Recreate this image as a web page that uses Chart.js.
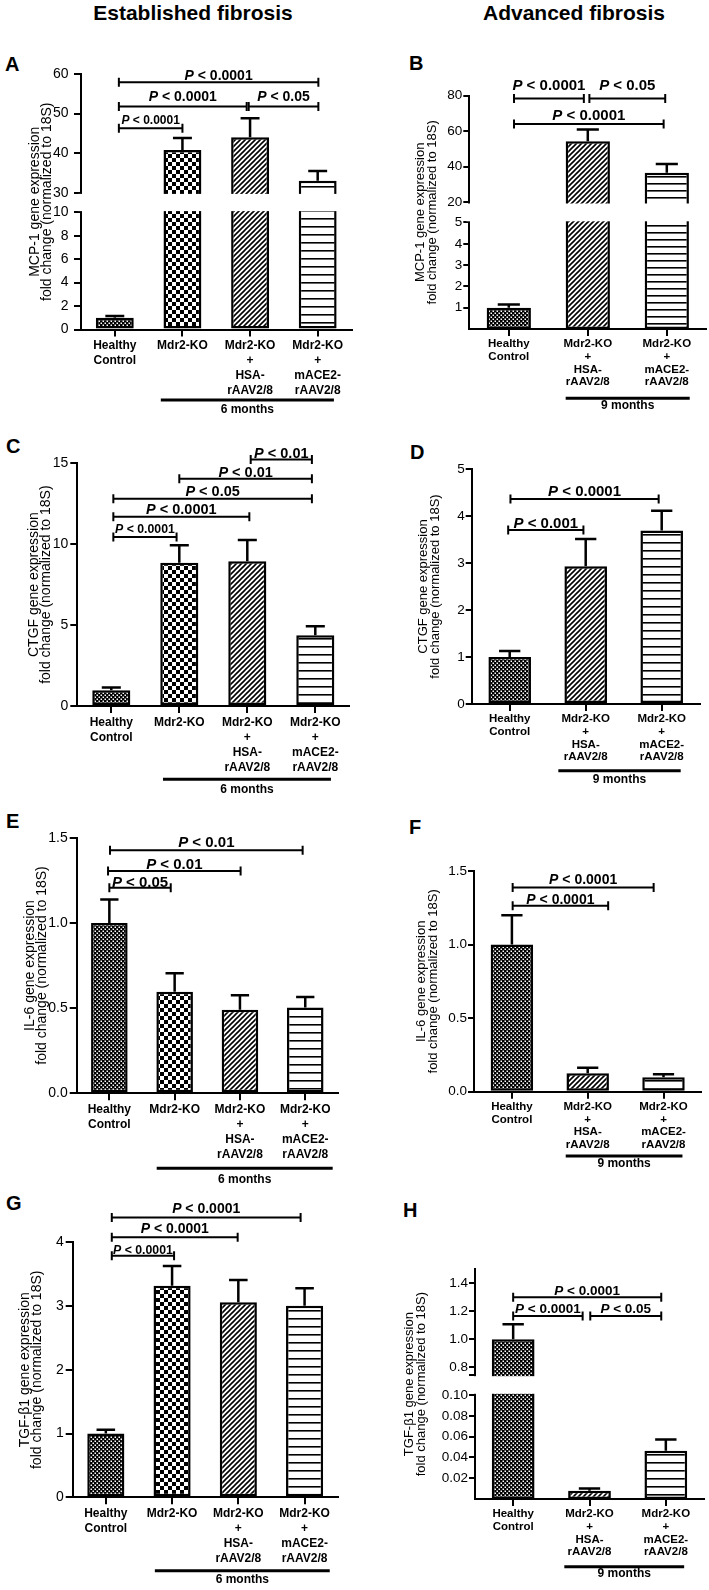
<!DOCTYPE html>
<html>
<head>
<meta charset="utf-8">
<script src="https://cdn.jsdelivr.net/npm/chart.js@4.4.1/dist/chart.umd.min.js"></script>
<style>
  body { margin: 0; background: #fff; }
  #page { position: relative; width: 709px; height: 1590px; font-family: 'Liberation Sans', Arial, sans-serif; color: #000; overflow: hidden; }
  .head { position: absolute; font-weight: bold; font-size: 21px; line-height: 21px; white-space: nowrap; transform: translateX(-50%); }
  .letter { position: absolute; font-weight: bold; font-size: 20px; line-height: 20px; }
  canvas { position: absolute; }
</style>
</head>
<body>
<div id="page">
  <div class="head" style="left:193px; top:2px">Established fibrosis</div>
  <div class="head" style="left:574px; top:2px">Advanced fibrosis</div>
  <div class="letter" style="left:5px; top:54px">A</div>
  <div class="letter" style="left:409px; top:53px">B</div>
  <div class="letter" style="left:6px; top:436px">C</div>
  <div class="letter" style="left:410px; top:442px">D</div>
  <div class="letter" style="left:6px; top:811px">E</div>
  <div class="letter" style="left:409px; top:817px">F</div>
  <div class="letter" style="left:6px; top:1193px">G</div>
  <div class="letter" style="left:403px; top:1200px">H</div>
</div>
<script>
// categories
const established = [['Healthy', 'Control'], ['Mdr2-KO'], ['Mdr2-KO', '+', 'HSA-', 'rAAV2/8'], ['Mdr2-KO', '+', 'mACE2-', 'rAAV2/8']];
const advanced = [['Healthy', 'Control'], ['Mdr2-KO', '+', 'HSA-', 'rAAV2/8'], ['Mdr2-KO', '+', 'mACE2-', 'rAAV2/8']];

// MCP-1 (mean, SEM)
const mcp1Est = [1.0, 40.8, 44.0, 33.0];
const mcp1EstErr = [0.15, 3.0, 4.8, 2.5];
const mcp1Adv = [1.0, 54.3, 36.6];
const mcp1AdvErr = [0.15, 6.7, 4.9];

// CTGF
const ctgfEst = [0.98, 8.86, 8.95, 4.38];
const ctgfEstErr = [0.17, 1.08, 1.31, 0.55];
const ctgfAdv = [1.0, 2.93, 3.69];
const ctgfAdvErr = [0.13, 0.58, 0.42];

// IL-6
const il6Est = [1.0, 0.596, 0.49, 0.504];
const il6EstErr = [0.137, 0.108, 0.085, 0.061];
const il6Adv = [1.0, 0.125, 0.0975];
const il6AdvErr = [0.2, 0.038, 0.021];

// TGF-b1
const tgfEst = [1.0, 3.32, 3.06, 3.005];
const tgfEstErr = [0.06, 0.31, 0.35, 0.275];
const tgfAdv = [1.0, 0.008, 0.0464];
const tgfAdvErr = [0.107, 0.0022, 0.0109];

// y tick values and labels
const ticksA = [0, 2, 4, 6, 8, 10, 30, 40, 50, 60];
const labelsA = ['0', '2', '4', '6', '8', '10', '30', '40', '50', '60'];
const ticksB = [1, 2, 3, 4, 5, 20, 40, 60, 80];
const labelsB = ['1', '2', '3', '4', '5', '20', '40', '60', '80'];
const ticksC = [0, 5, 10, 15];
const labelsC = ['0', '5', '10', '15'];
const ticksD = [0, 1, 2, 3, 4, 5];
const labelsD = ['0', '1', '2', '3', '4', '5'];
const ticksEF = [0, 0.5, 1.0, 1.5];
const labelsEF = ['0.0', '0.5', '1.0', '1.5'];
const ticksG = [0, 1, 2, 3, 4];
const labelsG = ['0', '1', '2', '3', '4'];
const ticksH = [0.02, 0.04, 0.06, 0.08, 0.10, 0.745, 0.8, 1.0, 1.2, 1.4];
const labelsH = ['0.02', '0.04', '0.06', '0.08', '0.10', '', '0.8', '1.0', '1.2', '1.4'];

const mcpTitle = ['MCP-1 gene expression', 'fold change (normalized to 18S)'];
const ctgfTitle = ['CTGF gene expression', 'fold change (normalized to 18S)'];
const il6Title = ['IL-6 gene expression', 'fold change (normalized to 18S)'];
const tgfTitle = ['TGF-\u03b21 gene expression', 'fold change (normalized to 18S)'];

const FONT = "'Liberation Sans', Arial, sans-serif";
Chart.defaults.font.family = FONT;
Chart.defaults.color = '#000';

// linear scale with an optional axis break
const scaleSetup = {};
class BrokenScale extends Chart.LinearScale {
  buildTicks() {
    return scaleSetup[this.chart.canvas.id].ticks.map(v => ({ value: v }));
  }
  getPixelForValue(v) {
    const brk = scaleSetup[this.chart.canvas.id].brk;
    if (v === null || isNaN(v)) return NaN;
    if (!brk) return super.getPixelForValue(v);
    const [lowMax, highMin, lowFrac, gapFrac] = brk;
    let d;
    if (v <= lowMax) d = lowFrac * (v - this.min) / (lowMax - this.min);
    else if (v >= highMin) d = lowFrac + gapFrac + (1 - lowFrac - gapFrac) * (v - highMin) / (this.max - highMin);
    else d = lowFrac + gapFrac * (v - lowMax) / (highMin - lowMax);
    return this.getPixelForDecimal(d);
  }
}
BrokenScale.id = 'broken';
BrokenScale.defaults = Chart.LinearScale.defaults;
Chart.register(BrokenScale);

function tile(w, h, paint) {
  const c = document.createElement('canvas');
  c.width = w; c.height = h;
  const g = c.getContext('2d');
  g.fillStyle = '#fff';
  g.fillRect(0, 0, w, h);
  g.fillStyle = '#000';
  g.strokeStyle = '#000';
  paint(g);
  return g.createPattern(c, 'repeat');
}
const fineCheck = () => tile(4, 4, g => {
  g.fillRect(0, 0, 4, 4);
  g.fillStyle = '#fff';
  g.fillRect(0.5, 0.5, 1.5, 1.5);
  g.fillRect(2.5, 2.5, 1.5, 1.5);
});
const bigCheck = () => tile(8, 8, g => { g.fillRect(0, 0, 4, 4); g.fillRect(4, 4, 4, 4); });
const diag = () => tile(5, 5, g => {
  g.lineWidth = 1.6;
  g.beginPath();
  g.moveTo(0, 5); g.lineTo(5, 0);
  g.moveTo(-1, 1); g.lineTo(1, -1);
  g.moveTo(4, 6); g.lineTo(6, 4);
  g.stroke();
});
const hlines = step => tile(4, step, g => g.fillRect(0, 0, 4, 1.6));

function drawPText(ctx, text, cx, baseline, size) {
  const rest = text.slice(1);
  ctx.font = `italic bold ${size}px ${FONT}`;
  const wP = ctx.measureText('P').width;
  ctx.font = `bold ${size}px ${FONT}`;
  const wR = ctx.measureText(rest).width;
  const x0 = cx - (wP + wR) / 2;
  ctx.textAlign = 'left';
  ctx.textBaseline = 'alphabetic';
  ctx.font = `italic bold ${size}px ${FONT}`;
  ctx.fillText('P', x0, baseline);
  ctx.font = `bold ${size}px ${FONT}`;
  ctx.fillText(rest, x0 + wP, baseline);
}

function deco(p) {
  return {
    id: 'deco',
    afterDatasetsDraw(chart) {
      const { ctx, chartArea: a, scales: { x, y } } = chart;
      const oy = p.rect[1];
      ctx.save();
      if (p.brk) {
        const yHi = y.getPixelForValue(p.brk[1]);
        const yLo = y.getPixelForValue(p.brk[0]);
        ctx.fillStyle = '#fff';
        ctx.fillRect(a.left - 3, yHi + 1.2, a.right - a.left + 5, yLo - yHi - 2.4);
      }
      ctx.strokeStyle = '#000';
      ctx.fillStyle = '#000';
      // error bars (upper half only)
      const bars = chart.getDatasetMeta(0).data;
      ctx.lineWidth = 2.5;
      p.values.forEach((v, i) => {
        const bx = bars[i].x, hw = bars[i].width / 4;
        const y0 = y.getPixelForValue(v), y1 = y.getPixelForValue(v + p.errors[i]);
        ctx.beginPath();
        ctx.moveTo(bx, y0); ctx.lineTo(bx, y1);
        ctx.moveTo(bx - hw, y1); ctx.lineTo(bx + hw, y1);
        ctx.stroke();
      });
      // significance brackets
      ctx.lineWidth = 2;
      p.brackets.forEach(([i1, i2, level, text, size, gap = 3]) => {
        const x1 = x.getPixelForValue(i1), x2 = x.getPixelForValue(i2);
        const yy = y.getPixelForValue(level);
        ctx.beginPath();
        ctx.moveTo(x1, yy); ctx.lineTo(x2, yy);
        ctx.moveTo(x1, yy - 4.5); ctx.lineTo(x1, yy + 4.5);
        ctx.moveTo(x2, yy - 4.5); ctx.lineTo(x2, yy + 4.5);
        ctx.stroke();
        drawPText(ctx, text, (x1 + x2) / 2, yy - gap, size);
      });
      // time-point bar under the groups
      const pr = p.period;
      const px1 = x.getPixelForValue(pr.from), px2 = x.getPixelForValue(pr.to);
      ctx.lineWidth = 3;
      ctx.beginPath();
      ctx.moveTo(px1, pr.y - oy); ctx.lineTo(px2, pr.y - oy);
      ctx.stroke();
      ctx.font = `bold 12px ${FONT}`;
      ctx.textAlign = 'center';
      ctx.textBaseline = 'middle';
      ctx.fillText(pr.text, (px1 + px2) / 2, pr.textY - oy);
      ctx.restore();
    }
  };
}

function makeChart(p) {
  const [rx, ry, rw, rh] = p.rect;
  const cv = document.createElement('canvas');
  cv.id = 'chart' + p.name;
  cv.width = rw; cv.height = rh;
  cv.style.left = rx + 'px';
  cv.style.top = ry + 'px';
  document.getElementById('page').appendChild(cv);
  scaleSetup[cv.id] = { ticks: p.ticks, brk: p.brk };
  const xHeight = 85;
  const left = p.labels.length === 4;
  const fills = left ? [fineCheck(), bigCheck(), diag(), hlines(p.stripe)] : [fineCheck(), diag(), hlines(p.stripe)];
  const labelSize = left ? 12 : 11.5;
  new Chart(cv, {
    type: 'bar',
    data: {
      labels: p.labels,
      datasets: [{
        data: p.values,
        backgroundColor: fills,
        borderColor: '#000',
        borderWidth: 2.5,
        borderSkipped: false,
        barPercentage: 0.56,
        categoryPercentage: 1
      }]
    },
    options: {
      responsive: false,
      animation: false,
      events: [],
      layout: {
        padding: {
          left: p.titleLeft - rx,
          top: p.top - ry,
          right: rx + rw - p.right,
          bottom: ry + rh - p.bottom - xHeight
        }
      },
      plugins: { legend: { display: false }, tooltip: { enabled: false } },
      scales: {
        x: {
          grid: { offset: false, drawOnChartArea: false, tickLength: 7, lineWidth: 2, color: '#000' },
          border: { color: '#000', width: 2 },
          ticks: {
            font: { size: labelSize, weight: 'bold', lineHeight: left ? 1.25 : 1.1 },
            padding: 2, maxRotation: 0, autoSkip: false, color: '#000'
          },
          afterFit: s => { s.height = xHeight; }
        },
        y: {
          type: 'broken',
          min: p.min,
          max: p.max,
          grid: { drawOnChartArea: false, tickLength: left ? 7 : 6, lineWidth: 2, color: '#000' },
          border: { color: '#000', width: 2 },
          ticks: {
            font: { size: left ? 14 : 13.5 },
            padding: p.tickPad, autoSkip: false, color: '#000',
            callback: (v, i) => p.tickLabels[i]
          },
          title: {
            display: true, text: p.title, padding: 0, color: '#000',
            font: { size: left ? 14 : 13, lineHeight: left ? 0.86 : 0.9 }
          },
          afterFit: s => { s.width = p.axisX - p.titleLeft; }
        }
      }
    },
    plugins: [deco(p)]
  });
}

const panels = [
  {
    name: 'A', rect: [0, 50, 360, 380], titleLeft: 29, axisX: 81, top: 74, bottom: 329.5, right: 351.5, tickPad: 5.5,
    labels: established, values: mcp1Est, errors: mcp1EstErr, title: mcpTitle,
    ticks: ticksA, tickLabels: labelsA, min: 0, max: 60, brk: [10, 30, 0.4587, 0.0767], stripe: 8,
    brackets: [
      [0.06, 1.0, 46.3, 'P < 0.0001', 12, 4],
      [0.06, 1.95, 51.8, 'P < 0.0001', 14, 5],
      [1.98, 3.01, 51.8, 'P < 0.05', 14, 5],
      [0.06, 3.01, 57.9, 'P < 0.0001', 14, 2.5]
    ],
    period: { from: 0.68, to: 3.24, y: 400, textY: 410, text: '6 months' }
  },
  {
    name: 'B', rect: [360, 50, 349, 380], titleLeft: 415, axisX: 469.3, top: 95.7, bottom: 329, right: 706.3, tickPad: 1,
    labels: advanced, values: mcp1Adv, errors: mcp1AdvErr, title: mcpTitle,
    ticks: ticksB, tickLabels: labelsB, min: 0, max: 80, brk: [5, 20, 0.4565, 0.0866], stripe: 7,
    brackets: [
      [0.066, 0.95, 78.4, 'P < 0.0001', 15, 9],
      [1.02, 1.98, 78.4, 'P < 0.05', 15, 9],
      [0.066, 1.96, 64.1, 'P < 0.0001', 15, 4]
    ],
    period: { from: 0.72, to: 2.29, y: 398.3, textY: 406, text: '9 months' }
  },
  {
    name: 'C', rect: [0, 430, 360, 370], titleLeft: 28, axisX: 77.3, top: 463.3, bottom: 706, right: 349.3, tickPad: 2,
    labels: established, values: ctgfEst, errors: ctgfEstErr, title: ctgfTitle,
    ticks: ticksC, tickLabels: labelsC, min: 0, max: 15, brk: null, stripe: 8,
    brackets: [
      [0.03, 0.96, 10.45, 'P < 0.0001', 12.3, 4],
      [0.03, 2.03, 11.70, 'P < 0.0001', 14.5, 2.5],
      [0.03, 2.95, 12.81, 'P < 0.05', 14.5, 2.5],
      [1.0, 2.95, 14.04, 'P < 0.01', 14.5, 1.5],
      [2.05, 2.95, 15.23, 'P < 0.01', 14.5, 1.5]
    ],
    period: { from: 0.76, to: 3.23, y: 779.3, textY: 790, text: '6 months' }
  },
  {
    name: 'D', rect: [360, 430, 349, 370], titleLeft: 417.5, axisX: 471.7, top: 469, bottom: 704, right: 699.7, tickPad: 1,
    labels: advanced, values: ctgfAdv, errors: ctgfAdvErr, title: ctgfTitle,
    ticks: ticksD, tickLabels: labelsD, min: 0, max: 5, brk: null, stripe: 8,
    brackets: [
      [-0.02, 0.97, 3.70, 'P < 0.001', 15, 2],
      [0.01, 1.96, 4.36, 'P < 0.0001', 15, 3]
    ],
    period: { from: 0.64, to: 2.25, y: 770.7, textY: 780, text: '9 months' }
  },
  {
    name: 'E', rect: [0, 800, 360, 390], titleLeft: 24, axisX: 76.7, top: 837.7, bottom: 1093.3, right: 337.9, tickPad: 2,
    labels: established, values: il6Est, errors: il6EstErr, title: il6Title,
    ticks: ticksEF, tickLabels: labelsEF, min: 0, max: 1.5, brk: null, stripe: 8,
    brackets: [
      [0, 0.94, 1.206, 'P < 0.05', 15, 1],
      [-0.02, 2.01, 1.304, 'P < 0.01', 15, 2],
      [0.01, 2.96, 1.427, 'P < 0.01', 15, 3]
    ],
    period: { from: 0.725, to: 3.42, y: 1168.3, textY: 1180, text: '6 months' }
  },
  {
    name: 'F', rect: [360, 800, 349, 390], titleLeft: 416, axisX: 474, top: 871, bottom: 1091.7, right: 701.4, tickPad: 1,
    labels: advanced, values: il6Adv, errors: il6AdvErr, title: il6Title,
    ticks: ticksEF, tickLabels: labelsEF, min: 0, max: 1.5, brk: null, stripe: 8,
    brackets: [
      [0.01, 1.27, 1.263, 'P < 0.0001', 14, 2],
      [0.01, 1.87, 1.388, 'P < 0.0001', 14, 3.3]
    ],
    period: { from: 0.71, to: 2.25, y: 1156, textY: 1163.3, text: '9 months' }
  },
  {
    name: 'G', rect: [0, 1190, 360, 400], titleLeft: 19, axisX: 72.7, top: 1242.3, bottom: 1497.3, right: 337.7, tickPad: 2,
    labels: established, values: tgfEst, errors: tgfEstErr, title: tgfTitle,
    ticks: ticksG, tickLabels: labelsG, min: 0, max: 4, brk: null, stripe: 8,
    brackets: [
      [0.09, 1.03, 3.79, 'P < 0.0001', 12.3, 1.5],
      [0.09, 1.99, 4.08, 'P < 0.0001', 14, 4],
      [0.09, 2.94, 4.39, 'P < 0.0001', 14, 4]
    ],
    period: { from: 0.74, to: 3.38, y: 1570.7, textY: 1580, text: '6 months' }
  },
  {
    name: 'H', rect: [360, 1190, 349, 400], titleLeft: 403.5, axisX: 475, top: 1269.3, bottom: 1499, right: 704, tickPad: 1,
    labels: advanced, values: tgfAdv, errors: tgfAdvErr, title: tgfTitle,
    ticks: ticksH, tickLabels: labelsH, min: 0, max: 1.5, brk: [0.10, 0.745, 0.4528, 0.0871], stripe: 8,
    brackets: [
      [0, 1.94, 1.30, 'P < 0.0001', 13.5, 2.3],
      [0, 0.91, 1.166, 'P < 0.0001', 13.5, 2.7],
      [1.01, 1.94, 1.166, 'P < 0.05', 13.5, 2.7]
    ],
    period: { from: 0.67, to: 2.24, y: 1566.7, textY: 1574, text: '9 months' }
  }
];

panels.forEach(makeChart);
</script>
</body>
</html>
